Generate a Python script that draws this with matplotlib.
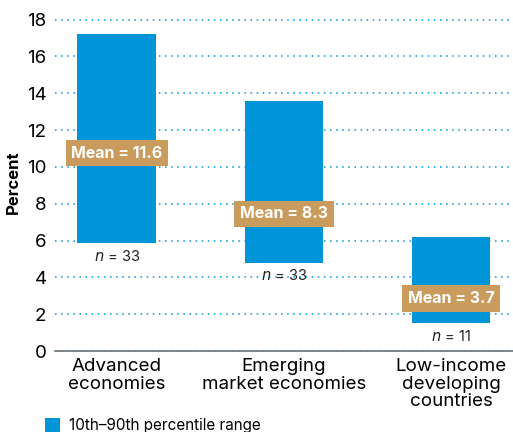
import matplotlib.pyplot as plt
import numpy as np
from matplotlib.patches import Patch

# data
categories = ["Advanced\neconomies", "Emerging\nmarket economies", "Low-income\ndeveloping\ncountries"]
p10 = [5.85, 4.8, 1.5]
p90 = [17.2, 13.6, 6.2]
means = [11.6, 8.3, 3.7]
counts = [33, 33, 11]

bar_color = "#0095D9"
box_color = "#C99B5D"
plt.rcParams["font.family"] = ["Inter", "DejaVu Sans"]

fig = plt.figure(figsize=(5.13, 4.32), dpi=100)
ax = fig.add_axes([0.107, 0.1875, 0.893, 0.78])

x = np.arange(len(categories))
ax.bar(x, np.array(p90) - np.array(p10), bottom=p10, width=0.47, color=bar_color, zorder=3)

for i in range(len(categories)):
    # mean label box sits a little below the mean line, like the original
    ax.text(x[i], means[i] - 0.85, f"Mean = {means[i]}", ha="center", va="center",
            fontsize=11.5, fontweight="bold", color="white", zorder=5,
            bbox=dict(boxstyle="square,pad=0.35", fc=box_color, ec="none"))
    ax.text(x[i], p10[i] - 0.3, f"$n$ = {counts[i]}", ha="center", va="top",
            fontsize=10.5, color="#222222", zorder=5)

ax.set_ylim(0, 18.3)
ax.set_xlim(-0.37, 2.37)
ax.set_yticks(np.arange(0, 19, 2))
ax.set_xticks(x)
ax.set_xticklabels(categories, fontsize=13.5, linespacing=1.05)
ax.tick_params(axis="y", length=0, labelsize=13.5, pad=6)
ax.tick_params(axis="x", length=0, pad=5)
ax.yaxis.grid(True, linestyle=(0, (1, 3)), color="#0095D9", linewidth=1.1, zorder=0)
for s in ["top", "right", "left"]:
    ax.spines[s].set_visible(False)
ax.spines["bottom"].set_color("#6b7378")
ax.spines["bottom"].set_linewidth(1.2)
ax.set_ylabel("Percent", fontsize=12, fontweight="bold", labelpad=4)

handle = Patch(facecolor=bar_color, edgecolor="none")
fig.legend([handle], ["10th–90th percentile range"], loc="lower left",
           bbox_to_anchor=(0.06, -0.035), frameon=False, fontsize=11,
           handlelength=1.0, handleheight=1.0, handletextpad=0.6)

plt.savefig("out.png", dpi=100)
